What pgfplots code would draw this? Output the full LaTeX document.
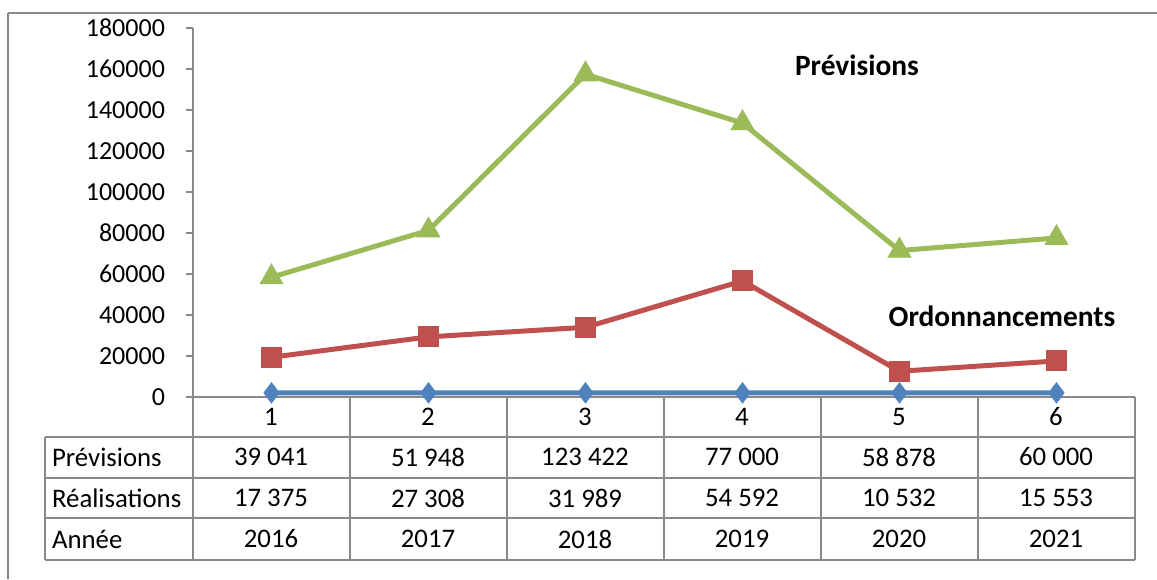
\documentclass[border=0pt]{standalone}
\usepackage{pgfplots}
\pgfplotsset{compat=1.18}
\usepackage{fontspec}
\setmainfont{Carlito}
\definecolor{cblue}{HTML}{4F81BD}
\definecolor{cred}{HTML}{C0504D}
\definecolor{cgreen}{HTML}{9BBB59}
\definecolor{cgrid}{HTML}{898989}
\begin{document}
\fontsize{13}{15}\selectfont
\begin{tikzpicture}[x=0.5pt,y=0.5pt]
\useasboundingbox (0,0) rectangle (1157,579);
% outer frame (top and left)
\draw[cgrid,line width=1pt] (8,566) -- (1157,566);
\draw[cgrid,line width=1pt] (8,566) -- (8,0);
\begin{axis}[
  at={(96.5pt,91pt)}, anchor=south west,
  scale only axis, width=471pt, height=184.5pt,
  xmin=0.5, xmax=6.5, ymin=0, ymax=180000,
  axis x line*=bottom, axis y line*=left,
  axis line style={cgrid, line width=0.7pt},
  xtick=\empty,
  ytick={0,20000,...,180000},
  ytick style={cgrid, line width=0.7pt},
  tick align=outside, major tick length=3.5pt,
  /pgf/number format/1000 sep={},
  /pgf/number format/fixed,
  /pgf/number format/assume math mode=true,
  scaled y ticks=false,
  yticklabel style={xshift=-6pt},
  tick label style={font=\fontsize{13}{15}\selectfont},
  stack plots=y,
  clip=false,
]
% Année
\addplot[cblue, line width=2.5pt, mark=diamond*, mark size=5pt, mark options={fill=cblue, draw=cblue, line width=0.5pt}]
  coordinates {(1,2016) (2,2017) (3,2018) (4,2019) (5,2020) (6,2021)};
% Réalisations (stacked)
\addplot[cred, line width=2.5pt, mark=square*, mark size=5pt, mark options={fill=cred, draw=cred, line width=0.5pt}]
  coordinates {(1,17375) (2,27308) (3,31989) (4,54592) (5,10532) (6,15553)};
% Prévisions (stacked)
\addplot[cgreen, line width=2.5pt, mark=triangle*, mark size=6.5pt, mark options={fill=cgreen, draw=cgreen, line width=0.5pt}]
  coordinates {(1,39041) (2,51948) (3,123422) (4,77000) (5,58878) (6,60000)};
\end{axis}
% series labels
\node[font=\fontsize{14.7}{17}\selectfont\bfseries] at (857,514) {Prévisions};
\node[font=\fontsize{14.7}{17}\selectfont\bfseries] at (1002,263) {Ordonnancements};
% data table
\begin{scope}[cgrid, line width=0.8pt]
\foreach \k in {0,...,6} {\draw (193+157*\k,182) -- (193+157*\k,19);}
\foreach \yy in {142,101,61,19} {\draw (45,\yy) -- (1135,\yy);}
\draw (45,142) -- (45,19);
\end{scope}
\begin{scope}[font=\fontsize{13.4}{15}\selectfont]
\foreach \v [count=\i] in {1,2,3,4,5,6} {\node at (114+157*\i,162) {\v};}
\node[anchor=west] at (43,122) {Prévisions};
\node[anchor=west] at (43,81) {Réalisations};
\node[anchor=west] at (43,40) {Année};
\foreach \v [count=\i] in {39 041,51 948,123 422,77 000,58 878,60 000} {\node at (114+157*\i,122) {\v};}
\foreach \v [count=\i] in {17 375,27 308,31 989,54 592,10 532,15 553} {\node at (114+157*\i,81) {\v};}
\foreach \v [count=\i] in {2016,2017,2018,2019,2020,2021} {\node at (114+157*\i,40) {\v};}
\end{scope}
\end{tikzpicture}
\end{document}
